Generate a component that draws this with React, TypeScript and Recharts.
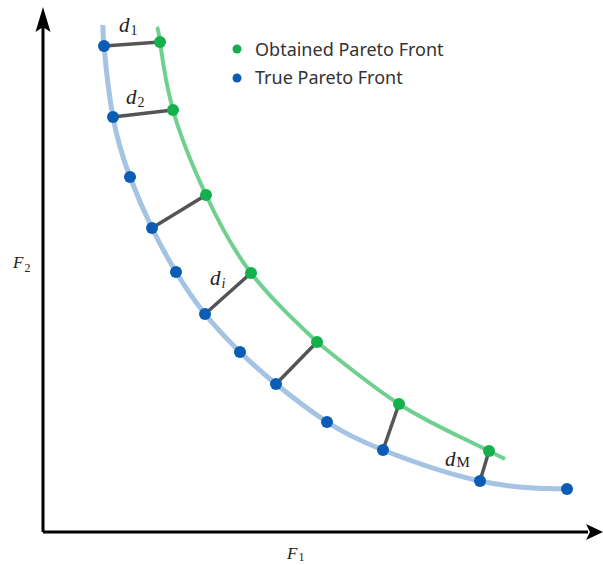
import React from 'react';
import { ComposedChart, Line, Scatter, XAxis, YAxis, Legend } from 'recharts';

// Units: F1 / F2 measured from the axes origin
const trueFront = [
  { x: 61, y: 486 }, { x: 70, y: 415 }, { x: 87, y: 355 }, { x: 109, y: 304 },
  { x: 133, y: 260 }, { x: 162, y: 218 }, { x: 197, y: 180 }, { x: 233, y: 148 },
  { x: 284, y: 110 }, { x: 340, y: 82 }, { x: 437, y: 51 }, { x: 524, y: 43 },
];
const trueCurveStart = { x: 60, y: 507 };

const obtainedFront = [
  { x: 117, y: 490 }, { x: 130, y: 422 }, { x: 163, y: 337 }, { x: 208, y: 259 },
  { x: 274, y: 190 }, { x: 356, y: 128 }, { x: 446, y: 81 },
];
const obtainedCurveStart = { x: 114, y: 505 };
const obtainedCurveEnd = { x: 462, y: 73 };

// pairs: [index in trueFront, index in obtainedFront]
const distancePairs = [[0, 0], [1, 1], [3, 2], [5, 3], [7, 4], [9, 5], [10, 6]];

const mathLabels = [
  { x: 76, y: 500, main: 'd', sub: '1', size: 21, subSize: 14, dy: 3, subItalic: false },
  { x: 83, y: 428, main: 'd', sub: '2', size: 21, subSize: 14, dy: 3, subItalic: false },
  { x: 167, y: 247, main: 'd', sub: 'i', size: 21, subSize: 14, dy: 3, subItalic: true },
  { x: 402, y: 66, main: 'd', sub: 'M', size: 21, subSize: 15, dy: 1, subItalic: false },
  { x: -30, y: 264, main: 'F', sub: '2', size: 17, subSize: 12, dy: 4, subItalic: false },
  { x: 244, y: -27, main: 'F', sub: '1', size: 17, subSize: 12, dy: 2, subItalic: false },
];

const yAxisLine = [{ x: 0, y: 0 }, { x: 0, y: 505 }];
const xAxisLine = [{ x: 0, y: 0 }, { x: 545, y: 0 }];
const arrowTips = [
  { x: 0, y: 525, dir: 'up' },
  { x: 560, y: 0, dir: 'right' },
];

const legendItems = [
  { name: 'Obtained Pareto Front', color: '#17ad4b' },
  { name: 'True Pareto Front', color: '#0b5cb5' },
];

const BLUE_DOT = '#0b5cb5';
const GREEN_DOT = '#14b04b';
const BLUE_LINE = '#a5c3e3';
const GREEN_LINE = '#6fd08f';
const GREY = '#555555';

const trueCurve = [trueCurveStart, ...trueFront];
// green curve drawn in two pieces joined under the 5th obtained point
const obtainedCurveUpper = [obtainedCurveStart, ...obtainedFront.slice(0, 5)];
const obtainedCurveLower = [...obtainedFront.slice(4), obtainedCurveEnd];

const ArrowShape = (props: any) => {
  const { cx, cy, payload } = props;
  if (payload.dir === 'up') {
    const d = `M${cx},${cy} L${cx + 7.5},${cy + 25} L${cx},${cy + 20} L${cx - 7.5},${cy + 25} Z`;
    return <path d={d} fill="#000" />;
  }
  const d = `M${cx},${cy} L${cx - 17},${cy - 8} L${cx - 13},${cy} L${cx - 17},${cy + 8} Z`;
  return <path d={d} fill="#000" />;
};

const MathLabel = (props: any) => {
  const { cx, cy, payload } = props;
  return (
    <text
      x={cx}
      y={cy}
      fontFamily="'Liberation Serif', 'DejaVu Serif', serif"
      fontSize={payload.size}
      fill="#222"
    >
      <tspan fontStyle="italic">{payload.main}</tspan>
      <tspan
        fontSize={payload.subSize}
        fontStyle={payload.subItalic ? 'italic' : 'normal'}
        dy={payload.dy}
        dx={1}
      >
        {payload.sub}
      </tspan>
    </text>
  );
};

const dotShape = (color: string) => (props: any) => (
  <circle cx={props.cx} cy={props.cy} r={6} fill={color} />
);

const LegendContent = () => (
  <svg width={240} height={60}>
    {legendItems.map((it, i) => (
      <g key={it.name}>
        <circle cx={12} cy={14 + i * 29} r={4.5} fill={it.color} />
        <text
          x={30}
          y={21 + i * 28}
          fontFamily="'Noto Sans', 'Open Sans', sans-serif"
          fontSize={18}
          fill="#333"
        >
          {it.name}
        </text>
      </g>
    ))}
  </svg>
);

export default function App() {
  return (
    <div style={{ position: 'absolute', left: 0, top: 0, background: '#fff' }}>
      <ComposedChart width={603} height={565} margin={{ top: 0, right: 0, bottom: 0, left: 0 }}>
        <XAxis type="number" dataKey="x" domain={[-43, 560]} hide allowDataOverflow />
        <YAxis type="number" dataKey="y" domain={[-33, 532]} hide allowDataOverflow />
        <Legend
          layout="horizontal"
          verticalAlign="middle"
          align="center"
          content={LegendContent}
          wrapperStyle={{ position: 'absolute', left: 225, top: 35, width: 240, height: 60 }}
        />
        <Line data={yAxisLine} dataKey="y" type="linear" stroke="#000" strokeWidth={3} dot={false} isAnimationActive={false} legendType="none" />
        <Line data={xAxisLine} dataKey="y" type="linear" stroke="#000" strokeWidth={3} dot={false} isAnimationActive={false} legendType="none" />
        <Scatter data={arrowTips} shape={ArrowShape} isAnimationActive={false} legendType="none" />
        <Line data={trueCurve} dataKey="y" type="natural" stroke={BLUE_LINE} strokeWidth={5} dot={false} isAnimationActive={false} legendType="none" />
        <Line data={obtainedCurveUpper} dataKey="y" type="natural" stroke={GREEN_LINE} strokeWidth={4} dot={false} isAnimationActive={false} legendType="none" />
        <Line data={obtainedCurveLower} dataKey="y" type="monotoneX" stroke={GREEN_LINE} strokeWidth={4} dot={false} isAnimationActive={false} legendType="none" />
        {distancePairs.map(([b, g], i) => (
          <Line
            key={`seg-${i}`}
            data={[trueFront[b], obtainedFront[g]]}
            dataKey="y"
            type="linear"
            stroke={GREY}
            strokeWidth={3.5}
            dot={false}
            isAnimationActive={false}
            legendType="none"
          />
        ))}
        <Scatter name="True Pareto Front" data={trueFront} shape={dotShape(BLUE_DOT)} isAnimationActive={false} />
        <Scatter name="Obtained Pareto Front" data={obtainedFront} shape={dotShape(GREEN_DOT)} isAnimationActive={false} />
        <Scatter data={mathLabels} shape={MathLabel} isAnimationActive={false} legendType="none" />
      </ComposedChart>
    </div>
  );
}
